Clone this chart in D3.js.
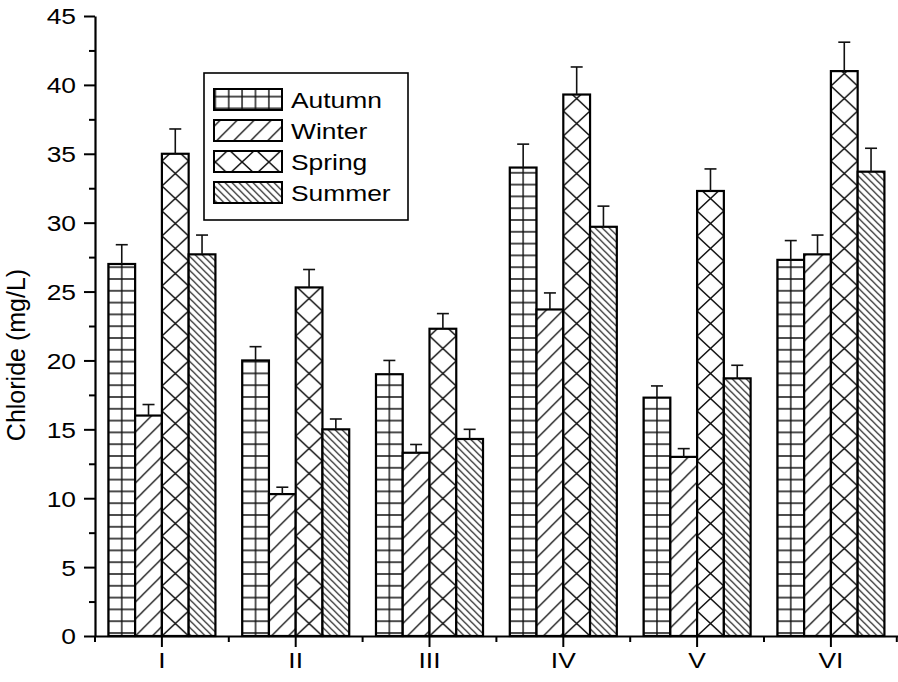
<!DOCTYPE html>
<html><head><meta charset="utf-8">
<script src="https://cdn.jsdelivr.net/npm/d3@7"></script>
<style>body{margin:0;background:#fff}svg{display:block;font-family:Arial,"Liberation Sans",sans-serif}</style>
</head><body><svg id="c" width="898" height="682"></svg>
<script>
const categories = ["I","II","III","IV","V","VI"];
const seriesNames = ["Autumn","Winter","Spring","Summer"];
const autumn    = [27.0, 20.0, 19.0, 34.0, 17.3, 27.3];
const autumnErr = [1.4, 1.0, 1.0, 1.7, 0.85, 1.4];
const winter    = [16.0, 10.3, 13.3, 23.7, 13.0, 27.7];
const winterErr = [0.8, 0.5, 0.6, 1.2, 0.6, 1.4];
const spring    = [35.0, 25.3, 22.3, 39.3, 32.3, 41.0];
const springErr = [1.8, 1.3, 1.1, 2.0, 1.6, 2.1];
const summer    = [27.7, 15.0, 14.3, 29.7, 18.7, 33.7];
const summerErr = [1.4, 0.75, 0.7, 1.5, 0.95, 1.7];
const yTicks = [0, 5, 10, 15, 20, 25, 30, 35, 40, 45];
const yMinorTicks = [2.5, 7.5, 12.5, 17.5, 22.5, 27.5, 32.5, 37.5, 42.5];
const yLabel = "Chloride (mg/L)";

const values = [autumn, winter, spring, summer];
const errors = [autumnErr, winterErr, springErr, summerErr];
const rows = [];
categories.forEach((c, i) => seriesNames.forEach((s, j) => rows.push({cat: c, series: s, si: j, v: values[j][i], e: errors[j][i]})));

const svg = d3.select("#c");
const x = d3.scaleBand().domain(categories).range([95, 897.8]).paddingInner(0).paddingOuter(0);
const xs = d3.scaleBand().domain(seriesNames).range([0, x.bandwidth()]).paddingInner(0).paddingOuter(0.5);
const y = d3.scaleLinear().domain([0, 45]).range([636, 16]);
const bw = xs.bandwidth();
const x0 = x(categories[0]) + xs(seriesNames[0]);
const SX = 1.2;

// patterns
const defs = svg.append("defs");
const ink = "#111";
function pat(id, w, h, d, px, py, sw) {
  const p = defs.append("pattern").attr("id", id).attr("patternUnits", "userSpaceOnUse")
    .attr("x", px).attr("y", py).attr("width", w).attr("height", h);
  p.append("rect").attr("width", w).attr("height", h).attr("fill", "#fff");
  p.append("path").attr("d", d).attr("stroke", ink).attr("stroke-width", sw).attr("fill", "none");
}
const aw = bw / 2, ah = 11.8;
pat("p0", aw, ah, `M0,${ah/2}H${aw}M${aw/2},0V${ah}`, x0 - aw / 2, y(0) - 3 - ah / 2, 1.4);
const ws = 17;
pat("p1", ws, ws, `M-2,2L2,-2M0,${ws}L${ws},0M${ws-2},${ws+2}L${ws+2},${ws-2}`, x0, 0, 1.3);
const sh = 25;
pat("p2", bw, sh, `M0,0L${bw},${sh}M0,${sh}L${bw},0`, x0, y(0), 1.5);
const ss = 7;
pat("p3", ss, ss, `M-2,${ss-2}L2,${ss+2}M0,0L${ss},${ss}M${ss-2},-2L${ss+2},2`, x0, 0, 1.2);

// bars
svg.append("g").selectAll("rect").data(rows).join("rect")
  .attr("x", d => x(d.cat) + xs(d.series))
  .attr("y", d => y(d.v))
  .attr("width", bw)
  .attr("height", d => y(0) - y(d.v))
  .attr("fill", d => `url(#p${d.si})`)
  .attr("stroke", "#000").attr("stroke-width", 2.2);

// error bars
const eg = svg.append("g").attr("stroke", ink).attr("stroke-width", 1.6);
eg.selectAll("line.v").data(rows).join("line").attr("class", "v")
  .attr("x1", d => x(d.cat) + xs(d.series) + bw / 2).attr("x2", d => x(d.cat) + xs(d.series) + bw / 2)
  .attr("y1", d => y(d.v)).attr("y2", d => y(d.v + d.e));
eg.selectAll("line.c").data(rows).join("line").attr("class", "c")
  .attr("x1", d => x(d.cat) + xs(d.series) + bw / 2 - 6).attr("x2", d => x(d.cat) + xs(d.series) + bw / 2 + 6)
  .attr("y1", d => y(d.v + d.e)).attr("y2", d => y(d.v + d.e));

// y axis
const yAx = svg.append("g").attr("transform", `translate(${x.range()[0]},0)`)
  .call(d3.axisLeft(y).tickValues(yTicks).tickSize(11).tickSizeOuter(0));
svg.append("g").attr("transform", `translate(${x.range()[0]},0)`)
  .call(d3.axisLeft(y).tickValues(yMinorTicks).tickSize(6).tickSizeOuter(0).tickFormat(""))
  .call(g => g.select(".domain").remove());
yAx.selectAll("text").attr("font-size", 22).attr("fill", "#000")
  .attr("x", -19 / SX).attr("dy", "0.36em").attr("transform", `scale(${SX},1)`);

// x axis
const xAx = svg.append("g").attr("transform", `translate(0,${y(0)})`)
  .call(d3.axisBottom(x).tickSize(11).tickSizeOuter(0));
const bounds = categories.map(c => x(c)).concat([x.range()[1] - 1]);
svg.append("g").selectAll("line").data(bounds).join("line")
  .attr("x1", d => d).attr("x2", d => d).attr("y1", y(0)).attr("y2", y(0) + 6)
  .attr("stroke", "#000").attr("stroke-width", 2);
xAx.selectAll("text").attr("font-size", 22).attr("fill", "#000")
  .attr("y", 16).attr("transform", `scale(${SX},1)`);

svg.selectAll(".domain").attr("stroke", "#000").attr("stroke-width", 2.2);
svg.selectAll(".tick line").attr("stroke", "#000").attr("stroke-width", 2);

// y label
svg.append("text").attr("transform", `translate(25,355) rotate(-90)`)
  .attr("text-anchor", "middle").attr("font-size", 25).attr("fill", "#000").text(yLabel);

// legend
const lg = svg.append("g");
lg.append("rect").attr("x", 204).attr("y", 73).attr("width", 204).attr("height", 147)
  .attr("fill", "#fff").attr("stroke", "#000").attr("stroke-width", 1.6);
const li = lg.selectAll("g.item").data(seriesNames).join("g").attr("class", "item")
  .attr("transform", (d, i) => `translate(214,${89 + i * 31})`);
li.append("rect").attr("width", 68).attr("height", 21)
  .attr("fill", (d, i) => `url(#p${i})`).attr("stroke", "#000").attr("stroke-width", 2);
li.append("text").attr("x", 77 / SX).attr("y", 19).attr("font-size", 22).attr("fill", "#000")
  .attr("transform", `scale(${SX},1)`).text(d => d);
</script></body></html>
